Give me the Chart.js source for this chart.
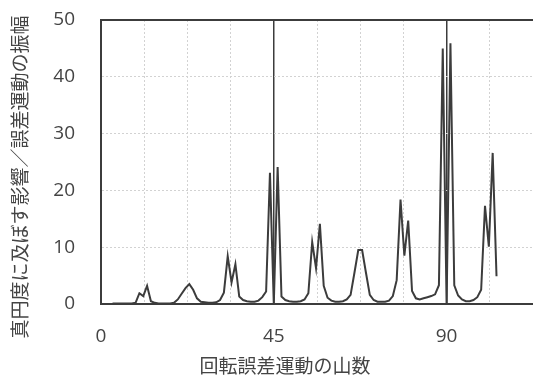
<!DOCTYPE html>
<html>
<head>
<meta charset="utf-8">
<script src="https://cdn.jsdelivr.net/npm/chart.js@4.4.1/dist/chart.umd.min.js"></script>
<style>
  html, body { margin: 0; padding: 0; background: #fff; }
  #wrap { width: 533px; height: 380px; }
</style>
</head>
<body>
<div id="wrap"><canvas id="chart"></canvas></div>
<script>
const ctx = document.getElementById("chart");

// 回転誤差運動の山数 (x) and the amplitude (y)
const waveCounts = [
  3, 4, 5, 6, 7, 8, 9, 10, 11, 12, 13, 14, 15, 16, 17, 18, 19, 20,
  21, 22, 23, 24, 25, 26, 27, 28, 29, 30, 31, 32, 33, 34, 35, 36, 37, 38,
  39, 40, 41, 42, 43, 44, 45, 46, 47, 48, 49, 50, 51, 52, 53, 54, 55, 56,
  57, 58, 59, 60, 61, 62, 63, 64, 65, 66, 67, 68, 69, 70, 71, 72, 73, 74,
  75, 76, 77, 78, 79, 80, 81, 82, 83, 84, 85, 86, 87, 88, 89, 90, 91, 92,
  93, 94, 95, 96, 97, 98, 99, 100, 101, 102, 103,
];
const amplitudes = [
  0.1, 0.1, 0.1, 0.1, 0.1, 0.1, 0.2, 1.9, 1.4, 3.2, 0.5, 0.2, 0.1, 0.1, 0.1, 0.1, 0.2, 0.8,
  1.8, 2.8, 3.5, 2.5, 1.0, 0.4, 0.3, 0.2, 0.2, 0.3, 0.7, 2.0, 8.4, 3.8, 7.0, 1.3, 0.7, 0.5,
  0.4, 0.4, 0.6, 1.2, 2.2, 23.1, 0, 24.1, 1.3, 0.7, 0.5, 0.4, 0.4, 0.5, 0.8, 1.9, 10.9, 6.3,
  14.1, 3.2, 1.1, 0.6, 0.4, 0.4, 0.5, 0.8, 1.6, 5.5, 9.5, 9.5, 5.5, 1.6, 0.7, 0.4, 0.4, 0.4,
  0.6, 1.4, 4.2, 18.4, 8.5, 14.7, 2.3, 1.0, 0.8, 1.0, 1.2, 1.4, 1.7, 3.3, 45.0, 0, 45.9, 3.3,
  1.5, 0.8, 0.5, 0.5, 0.7, 1.2, 2.5, 17.3, 10.1, 26.6, 4.9,
];
const xLabels = [0, 45, 90];
const xTitle = "回転誤差運動の山数";
const yTitle = "真円度に及ぼす影響／誤差運動の振幅";

const points = waveCounts.map((x, i) => ({ x: x, y: amplitudes[i] }));

const axisTitles = {
  id: "axisTitles",
  afterDraw(chart) {
    const c = chart.ctx;
    c.save();
    c.fillStyle = "#444";
    c.font = '19px "Noto Sans CJK JP"';
    c.textAlign = "center";
    c.textBaseline = "middle";
    c.fillText(xTitle, 285, 366);
    c.translate(20, 177);
    c.rotate(-Math.PI / 2);
    c.fillText(yTitle, 0, 0);
    c.restore();
  },
};

const isDark = (c, vals) => c.tick && vals.includes(c.tick.value);

new Chart(ctx, {
  type: "line",
  plugins: [axisTitles],
  data: {
    datasets: [
      {
        data: points,
        borderColor: "#3c3c3c",
        borderWidth: 2,
        pointRadius: 0,
        tension: 0,
      },
    ],
  },
  options: {
    responsive: true,
    maintainAspectRatio: false,
    animation: false,
    layout: { padding: { top: 20, right: 0, left: 0, bottom: 0 } },
    plugins: {
      legend: { display: false },
      tooltip: { enabled: false },
    },
    scales: {
      x: {
        type: "linear",
        min: 0,
        max: 112.5,
        afterFit: (scale) => {
          scale.height = 76;
          scale.paddingLeft = 0;
          scale.paddingRight = 0;
        },
        ticks: {
          stepSize: 11.25,
          autoSkip: false,
          maxRotation: 0,
          padding: 21,
          color: "#444",
          font: { family: '"Open Sans"', size: 19 },
          callback: (v) => (xLabels.includes(v) ? String(v) : ""),
        },
        grid: {
          drawTicks: false,
          color: (c) => (isDark(c, [0, 45, 90]) ? "#3c3c3c" : "#d2d2d2"),
          lineWidth: (c) => (isDark(c, [45, 90]) ? 1.5 : 1),
        },
        border: {
          color: "#3c3c3c",
          width: 2,
          dash: (c) => (c.tick && !isDark(c, [0, 45, 90]) ? [2, 2] : []),
        },
      },
      y: {
        min: 0,
        max: 50,
        afterFit: (scale) => {
          scale.width = 101;
          scale.paddingTop = 0;
          scale.paddingBottom = 0;
        },
        ticks: {
          stepSize: 10,
          padding: 26,
          color: "#444",
          font: { family: '"Open Sans"', size: 19 },
        },
        grid: {
          drawTicks: false,
          color: (c) => (isDark(c, [50]) ? "#3c3c3c" : "#d2d2d2"),
          lineWidth: (c) => (isDark(c, [50]) ? 2 : 1),
        },
        border: {
          color: "#3c3c3c",
          width: 2,
          dash: (c) => (c.tick && !isDark(c, [0, 50]) ? [2, 2] : []),
        },
      },
    },
  },
});
</script>
</body>
</html>
